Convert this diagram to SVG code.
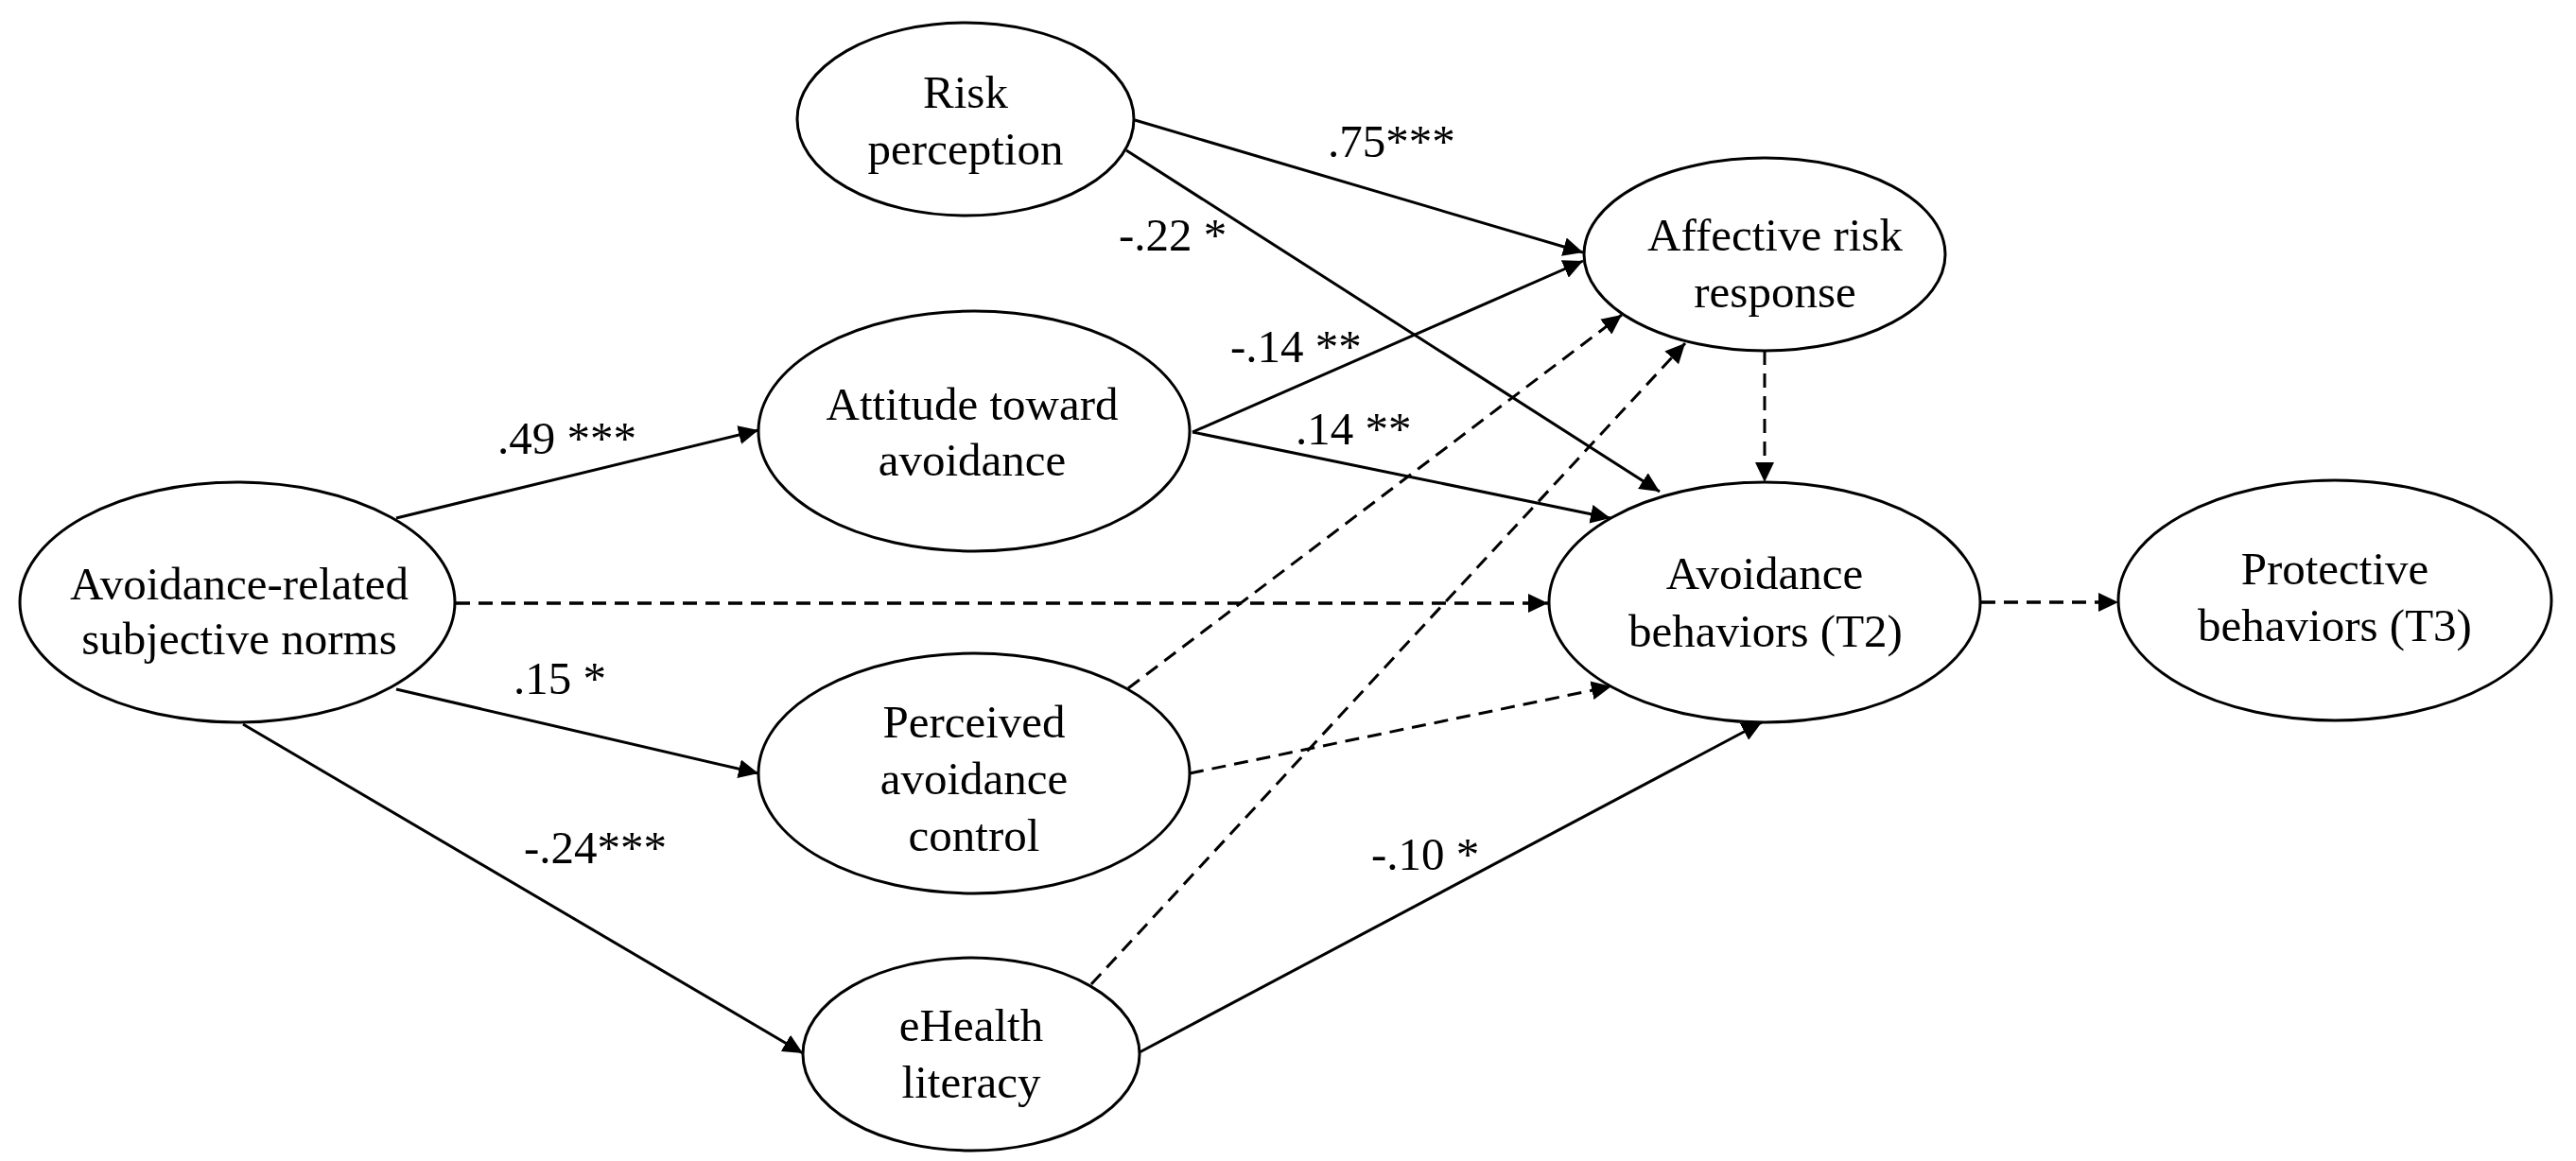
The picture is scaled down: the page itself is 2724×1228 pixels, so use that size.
<svg xmlns="http://www.w3.org/2000/svg" width="2724" height="1228" viewBox="0 0 2724 1228">
<style>
.node ellipse{fill:#fff;stroke:#000;stroke-width:3}
text{font-family:"Liberation Serif","Times New Roman",serif;font-size:49px;fill:#000}
.node text{text-anchor:middle}
.edge{fill:none;stroke:#000;stroke-width:3}
.solid{marker-end:url(#ah)}
.dash{stroke-dasharray:15 9;marker-end:url(#ah)}
</style>
<defs>
<marker id="ah" markerUnits="userSpaceOnUse" markerWidth="22" markerHeight="20" refX="21" refY="10" orient="auto">
<path d="M0,0 L21,10 L0,20 Z" fill="#000"/>
</marker>
</defs>
<rect width="2724" height="1228" fill="#fff"/>
<g id="connectors">
<line class="edge solid" x1="419" y1="548" x2="802" y2="455"/>
<line class="edge solid" x1="419" y1="729" x2="802" y2="818"/>
<line class="edge solid" x1="257" y1="766" x2="849" y2="1114"/>
<line class="edge dash" x1="482" y1="638" x2="1637" y2="638" style="stroke-width:3.5"/>
<line class="edge solid" x1="1200" y1="127" x2="1674" y2="267"/>
<line class="edge solid" x1="1191" y1="159" x2="1755" y2="520"/>
<line class="edge solid" x1="1261" y1="457" x2="1674" y2="276"/>
<line class="edge solid" x1="1261" y1="457" x2="1703" y2="548"/>
<line class="edge dash" x1="1193" y1="728" x2="1715" y2="333"/>
<line class="edge dash" x1="1258" y1="818" x2="1704" y2="726"/>
<line class="edge dash" x1="1154" y1="1041" x2="1782" y2="363"/>
<line class="edge solid" x1="1205" y1="1113" x2="1863" y2="764"/>
<line class="edge dash" x1="1866" y1="371" x2="1866" y2="510"/>
<line class="edge dash" x1="2095" y1="637" x2="2240" y2="637" style="stroke-width:3.5"/>
</g>
<g id="labels">
<text x="1404" y="166">.75***</text>
<text x="1183" y="265">-.22 *</text>
<text x="526" y="480">.49 ***</text>
<text x="1301" y="383">-.14 **</text>
<text x="1370" y="470">.14 **</text>
<text x="543" y="734">.15 *</text>
<text x="554" y="913">-.24***</text>
<text x="1450" y="920">-.10 *</text>
</g>
<g id="risk-perception" class="node">
<ellipse cx="1021" cy="126" rx="178" ry="102"/>
<text x="1021" y="114">Risk</text>
<text x="1021" y="174">perception</text>
</g>
<g id="attitude" class="node">
<ellipse cx="1030" cy="456" rx="228" ry="127"/>
<text x="1028" y="444">Attitude toward</text>
<text x="1028" y="503">avoidance</text>
</g>
<g id="subjective-norms" class="node">
<ellipse cx="251" cy="637" rx="230" ry="127"/>
<text x="253" y="634">Avoidance-related</text>
<text x="253" y="692">subjective norms</text>
</g>
<g id="perceived-control" class="node">
<ellipse cx="1030" cy="818" rx="228" ry="127"/>
<text x="1030" y="780">Perceived</text>
<text x="1030" y="840">avoidance</text>
<text x="1030" y="900">control</text>
</g>
<g id="ehealth" class="node">
<ellipse cx="1027" cy="1115" rx="178" ry="102"/>
<text x="1027" y="1101">eHealth</text>
<text x="1027" y="1161">literacy</text>
</g>
<g id="affective" class="node">
<ellipse cx="1866" cy="269" rx="191" ry="102"/>
<text x="1877" y="265">Affective risk</text>
<text x="1877" y="325">response</text>
</g>
<g id="avoidance-behaviors" class="node">
<ellipse cx="1866" cy="637" rx="228" ry="127"/>
<text x="1866" y="623">Avoidance</text>
<text x="1867" y="684">behaviors (T2)</text>
</g>
<g id="protective-behaviors" class="node">
<ellipse cx="2469" cy="635" rx="229" ry="127"/>
<text x="2469" y="618">Protective</text>
<text x="2469" y="678">behaviors (T3)</text>
</g>
</svg>
